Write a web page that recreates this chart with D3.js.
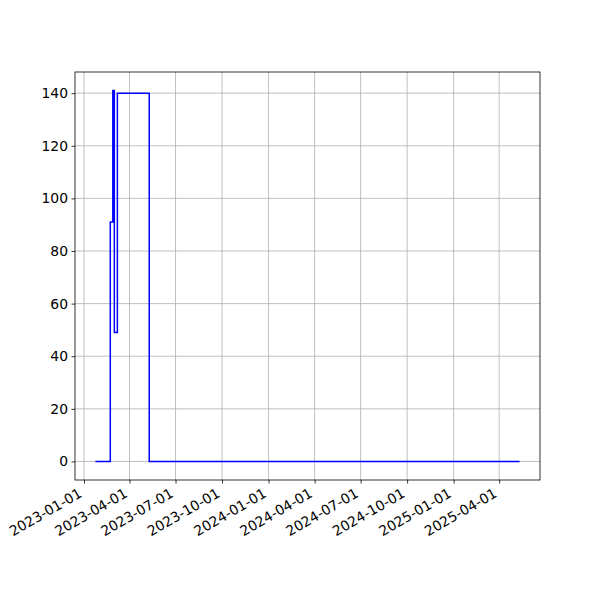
<!DOCTYPE html>
<html>
<head>
<meta charset="utf-8">
<script src="https://cdn.jsdelivr.net/npm/d3@7"></script>
<style>
  body { margin: 0; background: #fff; }
  svg { display: block; }
  text { font-family: "DejaVu Sans", sans-serif; }
</style>
</head>
<body>
<svg id="chart" width="600" height="600"></svg>
<script>
const dates = ["2023-01-25", "2023-02-22", "2023-02-27", "2023-03-02", "2023-03-08", "2023-05-10", "2025-05-10"];
const values = [0, 91, 141, 49, 140, 0, 0];
const xTickLabels = ["2023-01-01", "2023-04-01", "2023-07-01", "2023-10-01", "2024-01-01", "2024-04-01", "2024-07-01", "2024-10-01", "2025-01-01", "2025-04-01"];
const yTickValues = [0, 20, 40, 60, 80, 100, 120, 140];

const parse = d3.utcParse("%Y-%m-%d");
const data = dates.map((d, i) => ({ date: parse(d), value: values[i] }));

const margin = { left: 75, right: 60, top: 72, bottom: 120 };
const W = 600, H = 600;
const iw = W - margin.left - margin.right;
const ih = H - margin.top - margin.bottom;

const svg = d3.select("#chart");
const g = svg.append("g").attr("transform", `translate(${margin.left},${margin.top})`);

const xExt = d3.extent(data, d => d.date);
const xSpan = xExt[1] - xExt[0];
const x = d3.scaleUtc()
  .domain([new Date(+xExt[0] - 0.05 * xSpan), new Date(+xExt[1] + 0.05 * xSpan)])
  .range([0, iw]);
const yExt = d3.extent(data, d => d.value);
const ySpan = yExt[1] - yExt[0];
const y = d3.scaleLinear()
  .domain([yExt[0] - 0.05 * ySpan, yExt[1] + 0.05 * ySpan])
  .range([ih, 0]);

const xTicks = xTickLabels.map(parse);

// grid
g.append("g").selectAll("line").data(xTicks).join("line")
  .attr("x1", d => x(d)).attr("x2", d => x(d))
  .attr("y1", 0).attr("y2", ih)
  .attr("stroke", "#b0b0b0").attr("stroke-width", 0.8);
g.append("g").selectAll("line").data(yTickValues).join("line")
  .attr("x1", 0).attr("x2", iw)
  .attr("y1", d => y(d)).attr("y2", d => y(d))
  .attr("stroke", "#b0b0b0").attr("stroke-width", 0.8);

// line
const line = d3.line()
  .x(d => x(d.date))
  .y(d => y(d.value))
  .curve(d3.curveStepAfter);
g.append("path").datum(data)
  .attr("d", line)
  .attr("fill", "none")
  .attr("stroke", "#0000ff")
  .attr("stroke-width", 1.5)
  .attr("stroke-linejoin", "miter")
  .attr("stroke-linecap", "square");

// y axis
const yAxis = d3.axisLeft(y).tickValues(yTickValues).tickSize(3.5).tickPadding(3.5).tickFormat(d3.format("d"));
const ya = g.append("g").call(yAxis);
ya.select(".domain").remove();
ya.selectAll("line").attr("stroke", "#000").attr("stroke-width", 0.8);
ya.selectAll("text").attr("font-size", 13.9).attr("fill", "#000").attr("font-family", "DejaVu Sans");

// x axis
const xAxis = d3.axisBottom(x).tickValues(xTicks).tickSize(3.5).tickFormat(d3.utcFormat("%Y-%m-%d"));
const xa = g.append("g").attr("transform", `translate(0,${ih})`).call(xAxis);
xa.select(".domain").remove();
xa.selectAll("line").attr("stroke", "#000").attr("stroke-width", 0.8);
xa.selectAll("text")
  .attr("font-size", 13.9).attr("fill", "#000").attr("font-family", "DejaVu Sans")
  .attr("text-anchor", "end")
  .attr("y", 0).attr("dy", 0)
  .attr("transform", "translate(0,19) rotate(-30)")
  .attr("dy", "-0.24em");

// frame
g.append("rect").attr("x", 0).attr("y", 0).attr("width", iw).attr("height", ih)
  .attr("fill", "none").attr("stroke", "#000").attr("stroke-width", 0.8);
</script>
</body>
</html>
